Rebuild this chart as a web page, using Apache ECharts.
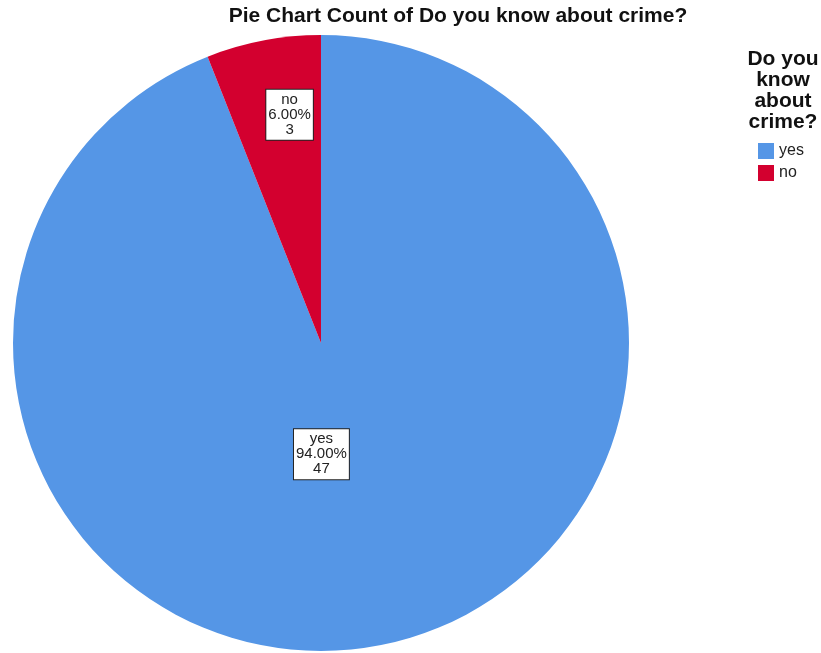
<!DOCTYPE html>
<html>
<head>
<meta charset="utf-8">
<script src="https://cdn.jsdelivr.net/npm/echarts@6/dist/echarts.min.js"></script>
<style>html,body{margin:0;padding:0;background:#fff}#c{width:821px;height:653px}</style>
</head>
<body>
<div id="c"></div>
<script>
const categories = ['yes', 'no'];
const counts = [47, 3];
const percents = [94.00, 6.00];
const colors = ['#5596e6', '#d3002f'];
const chartTitle = 'Pie Chart Count of Do you know about crime?';
const legendTitle = 'Do you\nknow\nabout\ncrime?';
// label shifts from the default inside position (px)
const labelShift = { yes: [-29, -43], no: [-2, -74] };

const chart = echarts.init(document.getElementById('c'), null, { renderer: 'canvas' });
const font = '"Liberation Sans", Arial, sans-serif';
chart.setOption({
  animation: false,
  color: colors,
  title: [
    { text: chartTitle, left: 458, top: 6, padding: 0, textAlign: 'center',
      textStyle: { fontFamily: font, fontSize: 21, fontWeight: 'bold', color: '#111' } },
    { text: legendTitle, left: 783, top: 49, padding: 0, textAlign: 'center',
      textStyle: { fontFamily: font, fontSize: 21, fontWeight: 'bold', color: '#111', lineHeight: 21 } }
  ],
  legend: {
    orient: 'vertical', left: 753, top: 138, icon: 'rect',
    itemWidth: 16, itemHeight: 16, itemGap: 6,
    data: categories,
    textStyle: { fontFamily: font, fontSize: 16, color: '#222' }
  },
  series: [{
    type: 'pie',
    center: [321, 343],
    radius: [0, 308],
    startAngle: 90,
    clockwise: true,
    silent: true,
    itemStyle: { borderWidth: 0 },
    labelLine: { show: false },
    label: {
      show: true, position: 'inside',
      fontFamily: font, fontSize: 15, lineHeight: 15, color: '#222',
      backgroundColor: '#fff', borderColor: '#222', borderWidth: 1,
      padding: [3, 2, 2, 2],
      formatter: p => p.name + '\n' + percents[p.dataIndex].toFixed(2) + '%\n' + p.value
    },
    labelLayout: p => {
      const s = labelShift[categories[p.dataIndex]];
      return { dx: s[0], dy: s[1], hideOverlap: false };
    },
    data: categories.map((c, i) => ({ name: c, value: counts[i] }))
  }]
});
</script>
</body>
</html>
